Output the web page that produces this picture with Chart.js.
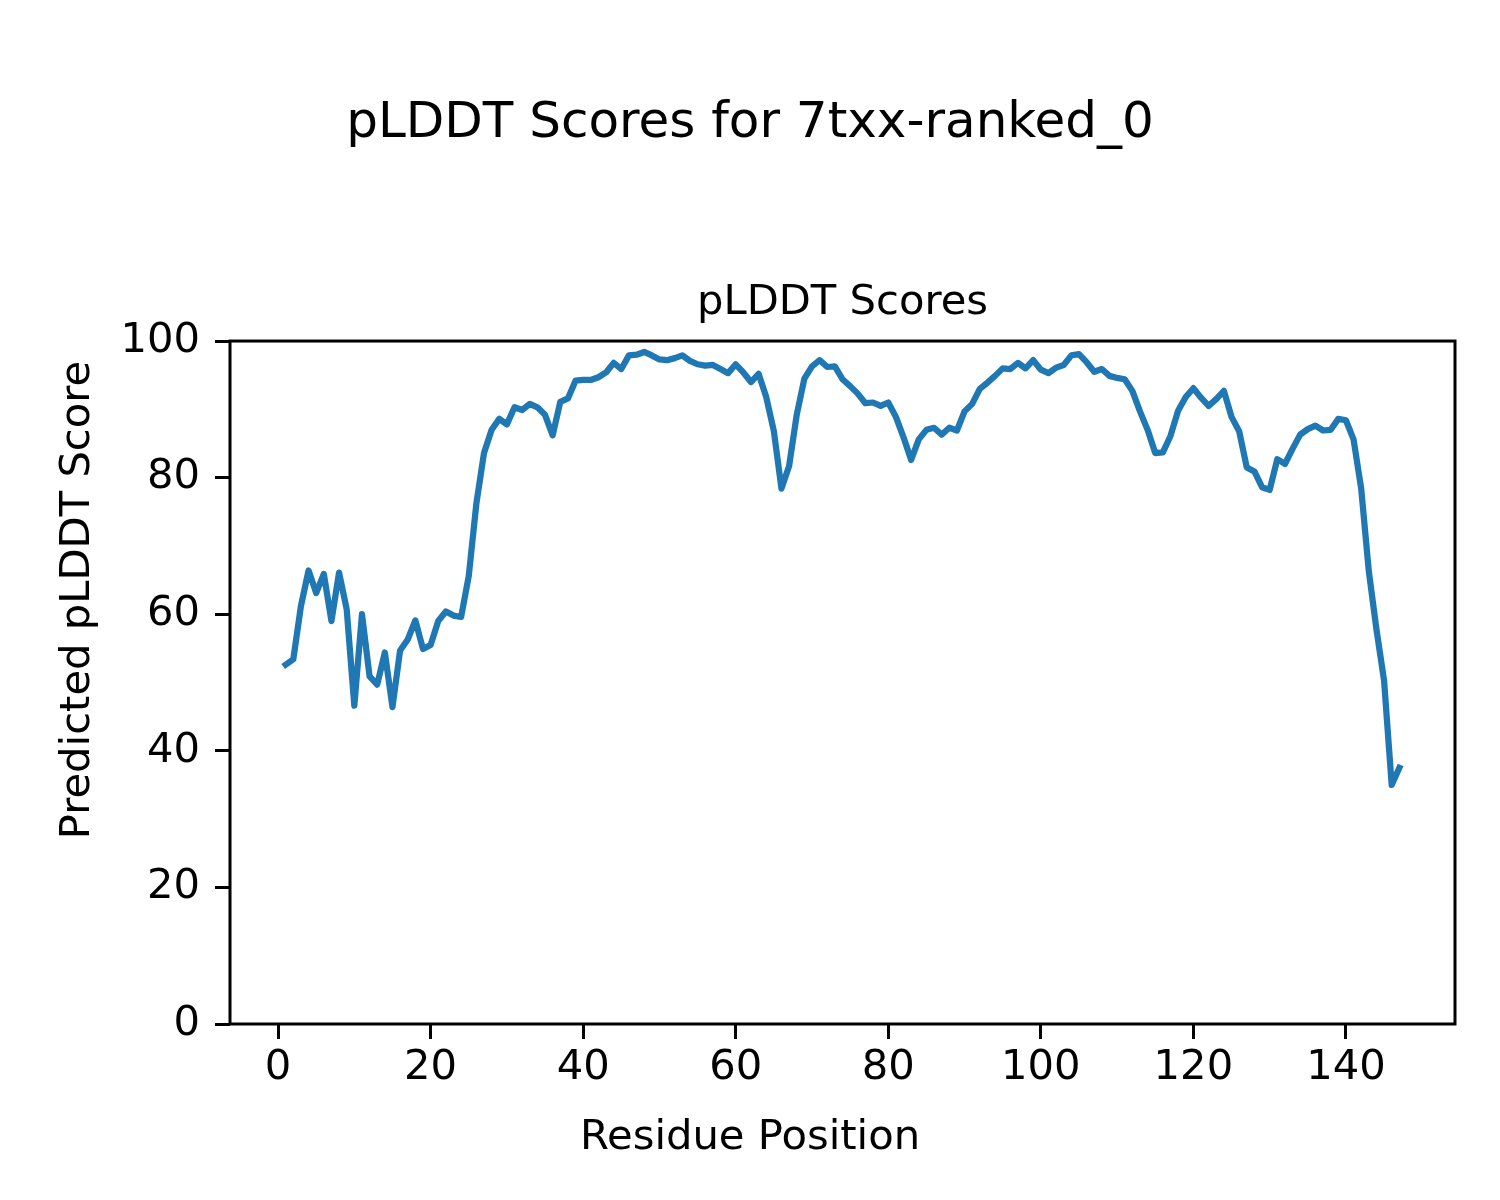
<!DOCTYPE html>
<html>
<head>
<meta charset="utf-8">
<script src="https://cdn.jsdelivr.net/npm/chart.js@4/dist/chart.umd.min.js"></script>
<style>
  body { margin: 0; background: #fff; }
  #wrap { width: 1500px; height: 1200px; }
</style>
</head>
<body>
<div id="wrap"><canvas id="plddtChart" width="1500" height="1200"></canvas></div>
<script>
// pLDDT per residue (residue 1..147)
var plddt = [
  52.6, 53.4, 61.2, 66.4, 63.1, 65.9, 59.0, 66.1, 60.7, 46.6,
  60.0, 50.9, 49.7, 54.4, 46.4, 54.7, 56.3, 59.1, 54.9, 55.5,
  59.0, 60.4, 59.8, 59.6, 65.6, 76.2, 83.6, 87.0, 88.6, 87.8,
  90.3, 89.9, 90.8, 90.3, 89.2, 86.2, 91.1, 91.6, 94.2, 94.3,
  94.3, 94.7, 95.4, 96.8, 95.9, 97.9, 98.0, 98.4, 97.9, 97.3,
  97.2, 97.5, 97.9, 97.1, 96.6, 96.4, 96.5, 95.9, 95.3, 96.6,
  95.4, 94.0, 95.2, 91.8, 86.8, 78.4, 81.7, 89.2, 94.5, 96.3,
  97.2, 96.2, 96.3, 94.4, 93.4, 92.3, 90.9, 91.0, 90.5, 91.0,
  88.9, 85.9, 82.6, 85.6, 87.0, 87.3, 86.3, 87.3, 86.9, 89.7,
  90.8, 93.0, 93.9, 94.9, 96.0, 95.9, 96.8, 96.0, 97.2, 95.8,
  95.3, 96.1, 96.5, 97.9, 98.1, 96.9, 95.5, 95.9, 94.9, 94.6,
  94.4, 92.7, 89.7, 87.0, 83.6, 83.7, 86.1, 89.8, 91.8, 93.1,
  91.7, 90.5, 91.5, 92.7, 88.9, 86.8, 81.5, 80.9, 78.6, 78.2,
  82.7, 82.0, 84.2, 86.3, 87.1, 87.6, 86.9, 87.0, 88.6, 88.4,
  85.6, 78.4, 66.3, 57.8, 50.3, 35.0, 37.5
];
var firstResidue = 1;

var xTicks = [0, 20, 40, 60, 80, 100, 120, 140];
var yTicks = [0, 20, 40, 60, 80, 100];

var figTitle = 'pLDDT Scores for 7txx-ranked_0';
var axTitle = 'pLDDT Scores';
var xLabel = 'Residue Position';
var yLabel = 'Predicted pLDDT Score';

var FONT = '"DejaVu Sans", "Liberation Sans", sans-serif';
var points = plddt.map(function (v, i) { return { x: firstResidue + i, y: v }; });

// box around the axes + figure-level x/y labels (centred on the figure, not the axes)
var figureText = {
  id: 'figureText',
  afterDraw: function (chart) {
    var ctx = chart.ctx, a = chart.chartArea;
    ctx.save();
    ctx.strokeStyle = '#000';
    ctx.lineWidth = 3;
    ctx.strokeRect(a.left, a.top, a.right - a.left, a.bottom - a.top);
    ctx.fillStyle = '#000';
    ctx.font = '41.7px ' + FONT;
    ctx.textAlign = 'center';
    ctx.textBaseline = 'middle';
    ctx.fillText(xLabel, chart.width / 2, 1138);
    ctx.translate(78, chart.height / 2);
    ctx.rotate(-Math.PI / 2);
    ctx.fillText(yLabel, 0, 0);
    ctx.restore();
  }
};

var ctx = document.getElementById('plddtChart').getContext('2d');
var chart = new Chart(ctx, {
  type: 'line',
  data: {
    datasets: [{
      label: 'pLDDT',
      data: points,
      borderColor: '#1f77b4',
      borderWidth: 6.25,
      borderJoinStyle: 'round',
      borderCapStyle: 'square',
      pointRadius: 0,
      tension: 0,
      fill: false
    }]
  },
  options: {
    responsive: false,
    animation: false,
    layout: { padding: 0 },
    plugins: {
      legend: { display: false },
      tooltip: { enabled: false },
      title: {
        display: true,
        text: figTitle,
        color: '#000',
        font: { family: FONT, size: 50, weight: 'normal' },
        padding: { top: 94, bottom: 0 }
      },
      subtitle: {
        display: true,
        text: axTitle,
        color: '#000',
        fullSize: false,
        font: { family: FONT, size: 41.7, weight: 'normal' },
        padding: { top: 124, bottom: 13 }
      }
    },
    scales: {
      x: {
        type: 'linear',
        min: -6.3,
        max: 154.3,
        afterFit: function (s) { s.height = 176; },
        afterBuildTicks: function (s) { s.ticks = xTicks.map(function (v) { return { value: v }; }); },
        grid: { drawOnChartArea: false, drawTicks: true, tickLength: 15, tickWidth: 3, tickColor: '#000' },
        border: { display: false },
        ticks: { color: '#000', padding: 4, maxRotation: 0, font: { family: FONT, size: 41.7 } }
      },
      y: {
        min: 0,
        max: 100,
        afterFit: function (s) { s.width = 230; },
        afterBuildTicks: function (s) { s.ticks = yTicks.map(function (v) { return { value: v }; }); },
        grid: { drawOnChartArea: false, drawTicks: true, tickLength: 15, tickWidth: 3, tickColor: '#000' },
        border: { display: false },
        ticks: { color: '#000', padding: 15, font: { family: FONT, size: 41.7 } }
      },
      // empty right-hand axis, only reserves the right margin so the title stays centred on the figure
      yRight: {
        position: 'right',
        min: 0,
        max: 100,
        afterFit: function (s) { s.width = 45; },
        grid: { display: false },
        border: { display: false },
        ticks: { display: false }
      }
    }
  },
  plugins: [figureText]
});
</script>
</body>
</html>
